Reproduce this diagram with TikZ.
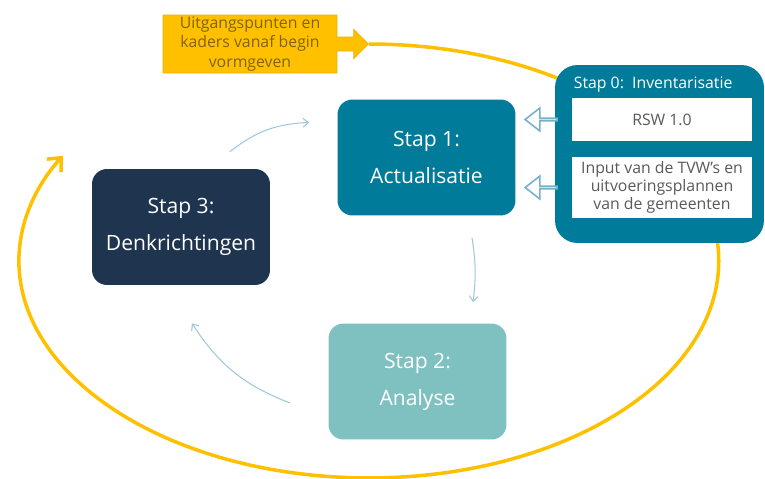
\documentclass[tikz,border=0pt]{standalone}
\usepackage{fontspec}
\setmainfont{Open Sans}
\usepackage{xcolor}
\usepackage{tikz}
\usetikzlibrary{shapes.arrows, arrows.meta, calc}

\definecolor{stapblauw}{RGB}{0,123,153}
\definecolor{stapnavy}{RGB}{31,52,78}
\definecolor{stapteal}{RGB}{127,193,192}
\definecolor{kadergeel}{RGB}{255,192,0}
\definecolor{kadertekst}{RGB}{128,100,0}
\definecolor{pijllicht}{RGB}{160,200,218}
\definecolor{pijlrand}{RGB}{120,176,200}
\definecolor{tekstgrijs}{RGB}{89,89,89}

\tikzset{
  stapbox/.style={
    rounded corners=0.3cm, align=center, text=white,
    minimum width=3.56cm, minimum height=2.32cm,
    font=\fontsize{12}{21}\selectfont
  },
  inputbox/.style={
    fill=white, align=center, text=tekstgrijs,
    minimum width=3.6cm, inner sep=1pt,
    font=\fontsize{9}{10.4}\selectfont
  },
  kaderbox/.style={
    arrow box, draw=kadergeel!92!black, fill=kadergeel, text=kadertekst,
    align=center, minimum width=3.48cm, minimum height=1.16cm,
    arrow box arrows={east:0.62cm}, arrow box shaft width=0.28cm,
    arrow box head extend=0.15cm, inner sep=1pt,
    font=\fontsize{9}{11}\selectfont
  },
  blokpijl/.style={
    single arrow, shape border rotate=180, draw=pijlrand, fill=white,
    line width=0.9pt, minimum width=0.46cm, minimum height=0.64cm,
    single arrow head extend=0.13cm, single arrow tip angle=76,
    inner sep=0pt
  },
  cycluspijl/.style={
    -{Straight Barb[length=3pt,width=5pt]}, pijllicht, line width=0.6pt
  },
  geelpijl/.style={
    -{Straight Barb[length=6pt,width=11pt]}, kadergeel, line width=2pt
  },
}

\begin{document}
\begin{tikzpicture}[x=0.02cm, y=-0.02cm]
  \useasboundingbox (0,0) rectangle (765,478);

  % ── Uitgangspunten ─────────────────────────────────────────────
  \node[kaderbox] (kader) at (250,44)
    {Uitgangspunten en\\kaders vanaf begin\\vormgeven};

  % ── Gele cyclus ────────────────────────────────────────────────
  \draw[geelpijl] (kader.east arrow tip)
    arc[start angle=90, end angle=-209, x radius=7.0cm, y radius=4.34cm];

  % ── Stappen 1 t/m 3 ────────────────────────────────────────────
  \node[stapbox, fill=stapblauw] (stap1) at (426.5,157.5) {Stap 1:\\Actualisatie};
  \node[stapbox, fill=stapteal] (stap2) at (417.5,381.5) {Stap 2:\\Analyse};
  \node[stapbox, fill=stapnavy] (stap3) at (181,227) {Stap 3:\\Denkrichtingen};

  % ── Stap 0: inventarisatie ─────────────────────────────────────
  \node[fill=stapblauw, rounded corners=0.45cm,
        minimum width=4.18cm, minimum height=3.56cm]
    (stap0) at (659.5,154) {};
  \node[text=white, anchor=west, font=\fontsize{9}{10}\selectfont]
    (stap0titel) at ($(stap0.north west)+(13,20)$) {Stap 0:\ \ Inventarisatie};
  \node[inputbox, minimum height=0.86cm] (rsw) at (662,119.5) {RSW 1.0};
  \node[inputbox, minimum height=1.22cm] (input) at (662,187.5)
    {Input van de TVW’s en\\uitvoeringsplannen\\van de gemeenten};

  % ── Invoerpijlen ───────────────────────────────────────────────
  \node[blokpijl, anchor=tip] (pijlrsw) at ($(stap1.east |- rsw.west)+(8,0)$) {};
  \node[blokpijl, anchor=tip] (pijlinput) at ($(stap1.east |- input.west)+(8,0)$) {};

  % ── Cycluspijlen ───────────────────────────────────────────────
  \draw[cycluspijl] ($(stap3.north)+(49,-17)$) to[bend left=18] ($(stap1.west)+(-28,-35)$);
  \draw[cycluspijl] ($(stap1.south)+(45.5,22)$) to[bend left=8] ($(stap2.north)+(55.5,-21)$);
  \draw[cycluspijl] ($(stap2.west)+(-38,21.5)$) to[bend left=18] ($(stap3.south)+(11,38)$);
\end{tikzpicture}
\end{document}
